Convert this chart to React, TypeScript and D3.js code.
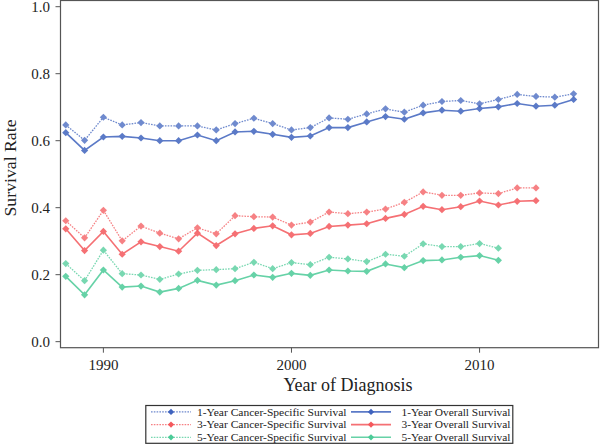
import React from "react";
import * as d3 from "d3";

const years1 = d3.range(1988, 2016);
const years3 = d3.range(1988, 2014);
const years5 = d3.range(1988, 2012);

const css1 = [0.647,0.601,0.670,0.647,0.654,0.644,0.644,0.644,0.632,0.651,0.667,0.651,0.632,0.639,0.668,0.664,0.680,0.695,0.685,0.706,0.717,0.720,0.710,0.723,0.738,0.732,0.730,0.740];
const os1 = [0.624,0.571,0.611,0.613,0.608,0.600,0.600,0.617,0.600,0.626,0.628,0.619,0.610,0.614,0.639,0.639,0.656,0.672,0.664,0.683,0.691,0.688,0.696,0.701,0.711,0.703,0.706,0.723];
const css3 = [0.361,0.310,0.392,0.301,0.345,0.324,0.307,0.340,0.322,0.376,0.373,0.372,0.348,0.357,0.387,0.382,0.387,0.396,0.416,0.447,0.437,0.437,0.444,0.442,0.459,0.459];
const os3 = [0.337,0.272,0.329,0.261,0.298,0.284,0.270,0.324,0.287,0.322,0.338,0.346,0.319,0.323,0.344,0.348,0.352,0.368,0.380,0.404,0.394,0.403,0.420,0.408,0.419,0.421];
const css5 = [0.233,0.182,0.273,0.203,0.199,0.186,0.202,0.213,0.215,0.218,0.237,0.218,0.236,0.230,0.252,0.247,0.239,0.261,0.255,0.292,0.284,0.284,0.293,0.279];
const os5 = [0.195,0.140,0.214,0.163,0.166,0.148,0.159,0.183,0.169,0.182,0.199,0.192,0.204,0.198,0.214,0.211,0.210,0.232,0.221,0.242,0.244,0.252,0.257,0.243];

const xTicks = [1990, 2000, 2010];
const yTicks = [0, 0.2, 0.4, 0.6, 0.8, 1.0];

const BLUE = "#3f63be";
const RED = "#f4585c";
const GREEN = "#4ccb98";

const series = [
  { name: "1-Year Cancer-Specific Survival", years: years1, values: css1, color: BLUE, dotted: true },
  { name: "3-Year Cancer-Specific Survival", years: years3, values: css3, color: RED, dotted: true },
  { name: "5-Year Cancer-Specific Survival", years: years5, values: css5, color: GREEN, dotted: true },
  { name: "1-Year Overall Survival", years: years1, values: os1, color: BLUE, dotted: false },
  { name: "3-Year Overall Survival", years: years3, values: os3, color: RED, dotted: false },
  { name: "5-Year Overall Survival", years: years5, values: os5, color: GREEN, dotted: false },
];

const FONT = "Liberation Serif";
const tstyle = { fontFamily: FONT };

export default function App() {
  const left = 60.5, right = 599, top = 0.5, bottom = 347.7;
  const x = d3.scaleLinear().domain([1987.72, 2016.35]).range([left, right]);
  const y = d3.scaleLinear().domain([-0.018, 1.02]).range([bottom, 0]);
  const line = d3.line<[number, number]>().x(d => x(d[0])).y(d => y(d[1]));
  const marker = d3.symbol().type(d3.symbolSquare).size(26)() as string;
  const legMarker = d3.symbol().type(d3.symbolSquare).size(20)() as string;

  const legX = 145.8, legY = 405.5, legW = 367, legH = 37.8;

  return (
    <svg width={600} height={444} style={{ position: "absolute", left: 0, top: 0, background: "#fff" }}>
      <rect x={0} y={0} width={600} height={444} fill="#fff" />
      {series.map((s, i) => {
        const pts = s.years.map((yr, j) => [yr, s.values[j]] as [number, number]);
        return (
          <g key={i} opacity={s.dotted ? 0.75 : 0.85}>
            <path d={line(pts) as string} fill="none" stroke={s.color}
              strokeWidth={s.dotted ? 1.3 : 1.6} strokeDasharray={s.dotted ? "1.6,1.2" : undefined} />
            {pts.map((p, j) => (
              <path key={j} d={marker} transform={`translate(${x(p[0])},${y(p[1])}) rotate(45)`} fill={s.color} />
            ))}
          </g>
        );
      })}
      <rect x={left} y={top} width={right - left - 0.5} height={bottom - top} fill="none" stroke="#555" strokeWidth={1.2} />
      {yTicks.map(t => (
        <g key={t}>
          <line x1={left - 5} x2={left} y1={y(t)} y2={y(t)} stroke="#555" strokeWidth={1} />
          <text style={tstyle} x={left - 10.5} y={y(t)} dy="0.34em" textAnchor="end" fontSize={15} fill="#222">{t.toFixed(1)}</text>
        </g>
      ))}
      {xTicks.map(t => (
        <g key={t}>
          <line x1={x(t)} x2={x(t)} y1={bottom} y2={bottom + 5} stroke="#555" strokeWidth={1} />
          <text style={tstyle} x={x(t)} y={369.5} textAnchor="middle" fontSize={15} fill="#222">{t}</text>
        </g>
      ))}
      <text style={tstyle} x={348} y={391} textAnchor="middle" fontSize={18} fill="#222">Year of Diagnosis</text>
      <text style={tstyle} transform={`translate(15.8,168) rotate(-90)`} textAnchor="middle" fontSize={17.5} textLength={97} lengthAdjust="spacingAndGlyphs" fill="#222">Survival Rate</text>
      <rect x={legX} y={legY} width={legW} height={legH} fill="#fff" stroke="#333" strokeWidth={1.2} />
      {series.map((s, i) => {
        const col = i < 3 ? 0 : 1;
        const row = i % 3;
        const lx = col === 0 ? 151 : 351;
        const tx = col === 0 ? 197 : 401.5;
        const tw = col === 0 ? 149.5 : 109;
        const ly = 411.9 + row * 12.7;
        return (
          <g key={s.name}>
            <line x1={lx} x2={lx + 40} y1={ly} y2={ly} stroke={s.color} strokeWidth={s.dotted ? 1.2 : 1.6}
              strokeDasharray={s.dotted ? "1.6,1.2" : undefined} opacity={s.dotted ? 0.75 : 0.85} />
            <path d={legMarker} transform={`translate(${lx + 20},${ly}) rotate(45)`} fill={s.color} />
            <text style={tstyle} x={tx} y={ly} dy="0.34em" fontSize={11} textLength={tw} lengthAdjust="spacingAndGlyphs" fill="#222">{s.name}</text>
          </g>
        );
      })}
    </svg>
  );
}
